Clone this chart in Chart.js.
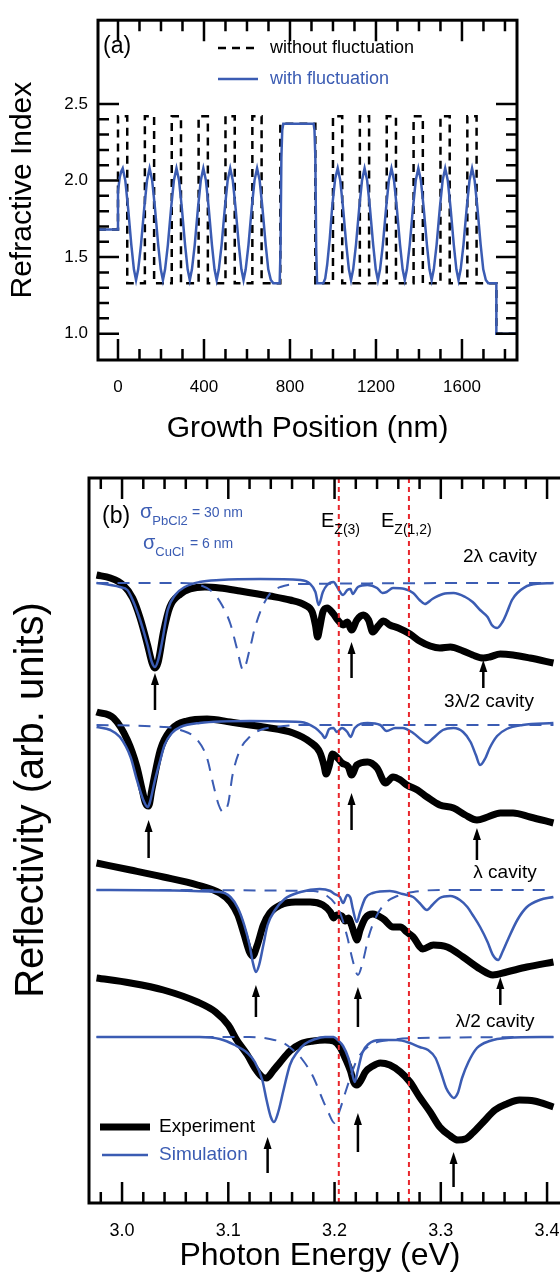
<!DOCTYPE html>
<html lang="en">
<head>
<meta charset="UTF-8">
<title>Refractive index profile and cavity reflectivity</title>
<style>
  html, body { margin: 0; padding: 0; background: #fff; overflow: hidden; }
  body { width: 560px; height: 1275px; position: relative; }
  canvas { position: absolute; left: 0; display: block; }
  #chartA { top: 0; }
  #chartB { top: 450px; }
</style>
<script src="https://cdn.jsdelivr.net/npm/chart.js"></script>
</head>
<body>
<canvas id="chartA" width="560" height="450"></canvas>
<canvas id="chartB" width="600" height="825"></canvas>
<script>
// ---------- panel (a): refractive index vs growth position ----------
const posTicks = [0, 400, 800, 1200, 1600];
const indexTicks = [1.0, 1.5, 2.0, 2.5];

// [position nm, index] step profile without fluctuation
const noFluct = [[-93,1.68],[0,1.68],[0,2.42],[43,2.42],[43,1.33],[125,1.33],[125,2.42],[168,2.42],[168,1.33],
  [250,1.33],[250,2.42],[293,2.42],[293,1.33],[375,1.33],[375,2.42],[418,2.42],[418,1.33],[500,1.33],[500,2.42],
  [543,2.42],[543,1.33],[625,1.33],[625,2.42],[668,2.42],[668,1.33],[755,1.33],[755,2.37],[918,2.37],[918,1.33],
  [1000,1.33],[1000,2.42],[1043,2.42],[1043,1.33],[1125,1.33],[1125,2.42],[1168,2.42],[1168,1.33],[1250,1.33],
  [1250,2.42],[1293,2.42],[1293,1.33],[1375,1.33],[1375,2.42],[1418,2.42],[1418,1.33],[1500,1.33],[1500,2.42],
  [1543,2.42],[1543,1.33],[1625,1.33],[1625,2.42],[1668,2.42],[1668,1.33],[1760,1.33],[1760,1.00],[1856,1.00]];

// [position nm, index] smoothed profile with fluctuation
const withFluct = [[-93,1.68],[0,1.68],[0,1.93],[8,2.02],[15,2.06],[22,2.08],[34,2.00],[47,1.82],[62,1.58],[74,1.42],
  [84,1.35],[94,1.42],[107,1.58],[122,1.82],[135,2.00],[147,2.08],[159,2.00],[172,1.82],[187,1.58],[199,1.42],
  [209,1.35],[219,1.42],[232,1.58],[247,1.82],[260,2.00],[272,2.08],[284,2.00],[297,1.82],[312,1.58],[324,1.42],
  [334,1.35],[344,1.42],[357,1.58],[372,1.82],[385,2.00],[397,2.08],[409,2.00],[422,1.82],[437,1.58],[449,1.42],
  [459,1.35],[469,1.42],[482,1.58],[497,1.82],[510,2.00],[522,2.08],[534,2.00],[547,1.82],[562,1.58],[574,1.42],
  [584,1.35],[594,1.42],[607,1.58],[622,1.82],[635,2.00],[647,2.08],[659,2.00],[672,1.82],[687,1.58],[699,1.42],
  [711,1.35],[722,1.33],[752,1.33],[756,1.55],[760,2.15],[764,2.33],[769,2.37],[910,2.37],[914,2.33],[918,2.15],
  [922,1.55],[926,1.33],[955,1.33],[964,1.36],[973,1.45],[985,1.62],[997,1.84],[1010,2.01],[1022,2.08],[1034,2.00],
  [1047,1.82],[1062,1.58],[1074,1.42],[1084,1.35],[1094,1.42],[1107,1.58],[1122,1.82],[1135,2.00],[1147,2.08],
  [1159,2.00],[1172,1.82],[1187,1.58],[1199,1.42],[1209,1.35],[1219,1.42],[1232,1.58],[1247,1.82],[1260,2.00],
  [1272,2.08],[1284,2.00],[1297,1.82],[1312,1.58],[1324,1.42],[1334,1.35],[1344,1.42],[1357,1.58],[1372,1.82],
  [1385,2.00],[1397,2.08],[1409,2.00],[1422,1.82],[1437,1.58],[1449,1.42],[1459,1.35],[1469,1.42],[1482,1.58],
  [1497,1.82],[1510,2.00],[1522,2.08],[1534,2.00],[1547,1.82],[1562,1.58],[1574,1.42],[1584,1.35],[1594,1.42],
  [1607,1.58],[1622,1.82],[1635,2.00],[1647,2.08],[1659,2.00],[1672,1.82],[1687,1.58],[1699,1.42],[1711,1.35],
  [1722,1.33],[1760,1.33],[1760,1.00],[1856,1.00]];

// ---------- panel (b): reflectivity spectra, [energy eV, reflectivity arb.] ----------
const energyTicks = [3.0, 3.1, 3.2, 3.3, 3.4];
const zLines = [3.204, 3.270]; // E_Z(3), E_Z(1,2)

const exp2L = [[2.976,6.28],[2.989,6.25],[3.001,6.18],[3.010,6.05],[3.017,5.85],[3.024,5.58],[3.028,5.41],[3.031,5.35],
  [3.034,5.41],[3.039,5.71],[3.045,5.96],[3.055,6.09],[3.064,6.14],[3.078,6.16],[3.092,6.15],[3.111,6.12],[3.139,6.07],
  [3.158,6.03],[3.172,5.98],[3.179,5.91],[3.182,5.78],[3.184,5.66],[3.186,5.75],[3.189,5.91],[3.193,5.95],[3.199,5.89],
  [3.203,5.83],[3.208,5.78],[3.212,5.81],[3.216,5.73],[3.221,5.83],[3.227,5.88],[3.232,5.83],[3.236,5.71],[3.241,5.77],
  [3.246,5.82],[3.252,5.78],[3.260,5.75],[3.271,5.69],[3.280,5.62],[3.290,5.57],[3.299,5.55],[3.309,5.56],[3.321,5.52],
  [3.330,5.48],[3.340,5.45],[3.346,5.46],[3.356,5.49],[3.368,5.48],[3.384,5.45],[3.406,5.40]];
const sim2L = [[2.976,6.20],[2.989,6.18],[2.998,6.16],[3.005,6.13],[3.010,6.03],[3.017,5.83],[3.024,5.58],[3.028,5.41],
  [3.031,5.36],[3.034,5.43],[3.038,5.63],[3.043,5.93],[3.050,6.08],[3.059,6.16],[3.073,6.21],[3.092,6.23],[3.130,6.24],
  [3.168,6.23],[3.177,6.19],[3.182,6.11],[3.185,5.98],[3.189,6.11],[3.193,6.18],[3.199,6.21],[3.203,6.15],[3.208,6.08],
  [3.212,6.13],[3.215,6.14],[3.217,6.09],[3.222,6.16],[3.231,6.18],[3.240,6.15],[3.245,6.10],[3.249,6.11],[3.255,6.15],
  [3.266,6.14],[3.274,6.10],[3.280,6.03],[3.285,5.99],[3.292,6.04],[3.302,6.09],[3.312,6.10],[3.323,6.06],[3.330,6.01],
  [3.337,5.93],[3.344,5.86],[3.348,5.78],[3.353,5.75],[3.358,5.81],[3.362,5.90],[3.367,6.03],[3.372,6.10],[3.384,6.18],
  [3.406,6.20]];
const ref2L = [[2.976,6.20],[3.055,6.20],[3.073,6.18],[3.085,6.11],[3.094,5.98],[3.102,5.79],[3.108,5.55],[3.114,5.33],
  [3.120,5.53],[3.125,5.75],[3.132,5.96],[3.139,6.09],[3.149,6.16],[3.168,6.19],[3.406,6.20]];

const exp3L2 = [[2.976,4.91],[2.992,4.85],[3.005,4.63],[3.014,4.36],[3.019,4.13],[3.022,4.00],[3.025,3.97],[3.028,4.13],
  [3.036,4.53],[3.045,4.72],[3.061,4.82],[3.080,4.84],[3.102,4.81],[3.133,4.76],[3.161,4.70],[3.177,4.61],[3.186,4.51],
  [3.190,4.38],[3.192,4.29],[3.195,4.37],[3.198,4.49],[3.202,4.46],[3.207,4.40],[3.213,4.36],[3.216,4.28],[3.221,4.38],
  [3.231,4.41],[3.240,4.35],[3.248,4.20],[3.255,4.26],[3.262,4.23],[3.268,4.18],[3.278,4.13],[3.287,4.06],[3.299,3.98],
  [3.312,3.95],[3.323,3.88],[3.334,3.83],[3.344,3.86],[3.356,3.90],[3.368,3.90],[3.384,3.86],[3.406,3.80]];
const sim3L2 = [[2.976,4.76],[2.989,4.73],[2.998,4.66],[3.008,4.46],[3.014,4.23],[3.020,4.03],[3.024,3.96],[3.026,4.00],
  [3.031,4.23],[3.036,4.43],[3.040,4.58],[3.047,4.70],[3.055,4.76],[3.073,4.80],[3.120,4.82],[3.168,4.81],[3.182,4.75],
  [3.188,4.69],[3.191,4.65],[3.195,4.74],[3.199,4.75],[3.202,4.71],[3.207,4.75],[3.212,4.71],[3.215,4.66],[3.219,4.75],
  [3.231,4.80],[3.243,4.78],[3.249,4.72],[3.257,4.75],[3.264,4.75],[3.274,4.70],[3.282,4.63],[3.287,4.60],[3.293,4.65],
  [3.302,4.73],[3.312,4.75],[3.321,4.71],[3.328,4.61],[3.333,4.48],[3.337,4.38],[3.342,4.45],[3.346,4.55],[3.353,4.67],
  [3.362,4.74],[3.377,4.78],[3.406,4.80]];
const ref3L2 = [[2.976,4.78],[3.039,4.76],[3.055,4.73],[3.071,4.63],[3.080,4.45],[3.086,4.18],[3.091,3.98],[3.095,3.91],
  [3.100,4.00],[3.104,4.28],[3.111,4.53],[3.120,4.66],[3.130,4.73],[3.144,4.76],[3.168,4.78],[3.406,4.78]];

const expL = [[2.976,3.40],[3.008,3.33],[3.039,3.26],[3.071,3.18],[3.092,3.10],[3.102,3.01],[3.109,2.88],[3.115,2.68],
  [3.120,2.51],[3.123,2.47],[3.127,2.57],[3.133,2.78],[3.139,2.90],[3.149,2.98],[3.163,3.01],[3.177,3.01],[3.189,2.98],
  [3.196,2.91],[3.199,2.85],[3.202,2.88],[3.207,2.87],[3.210,2.82],[3.213,2.85],[3.216,2.78],[3.219,2.68],[3.221,2.63],
  [3.224,2.73],[3.229,2.85],[3.236,2.89],[3.246,2.84],[3.255,2.76],[3.262,2.76],[3.268,2.71],[3.274,2.66],[3.283,2.54],
  [3.293,2.58],[3.306,2.56],[3.321,2.46],[3.337,2.34],[3.349,2.28],[3.362,2.31],[3.381,2.36],[3.406,2.41]];
const simL = [[2.976,3.13],[3.092,3.11],[3.102,3.06],[3.109,2.95],[3.115,2.78],[3.120,2.58],[3.123,2.41],[3.126,2.31],
  [3.129,2.38],[3.133,2.58],[3.137,2.78],[3.144,2.93],[3.153,3.04],[3.168,3.11],[3.186,3.14],[3.196,3.12],[3.200,3.09],
  [3.205,3.06],[3.208,3.00],[3.212,3.08],[3.215,3.05],[3.217,2.95],[3.221,2.81],[3.224,2.91],[3.229,3.05],[3.236,3.10],
  [3.252,3.12],[3.264,3.09],[3.274,3.06],[3.280,3.00],[3.287,2.93],[3.292,2.98],[3.299,3.05],[3.309,3.07],[3.318,3.03],
  [3.325,2.96],[3.330,2.88],[3.337,2.76],[3.344,2.61],[3.349,2.48],[3.354,2.43],[3.358,2.51],[3.363,2.63],[3.372,2.83],
  [3.381,2.96],[3.393,3.03],[3.406,3.06]];
const refL = [[2.976,3.13],[3.180,3.12],[3.193,3.07],[3.200,3.00],[3.206,2.88],[3.212,2.66],[3.217,2.43],[3.222,2.28],
  [3.227,2.43],[3.232,2.66],[3.239,2.86],[3.248,3.00],[3.259,3.07],[3.274,3.11],[3.299,3.13],[3.406,3.13]];

const expL2 = [[2.976,2.25],[3.008,2.20],[3.039,2.13],[3.071,2.01],[3.088,1.91],[3.100,1.78],[3.108,1.63],[3.118,1.48],
  [3.125,1.35],[3.132,1.26],[3.136,1.25],[3.142,1.32],[3.149,1.41],[3.158,1.52],[3.168,1.59],[3.180,1.62],[3.191,1.63],
  [3.199,1.62],[3.205,1.56],[3.210,1.45],[3.215,1.32],[3.218,1.21],[3.221,1.18],[3.225,1.23],[3.229,1.31],[3.236,1.37],
  [3.243,1.40],[3.252,1.38],[3.262,1.31],[3.271,1.21],[3.280,1.06],[3.290,0.91],[3.299,0.76],[3.309,0.67],[3.316,0.63],
  [3.323,0.64],[3.330,0.70],[3.340,0.81],[3.351,0.93],[3.362,0.99],[3.374,1.03],[3.388,1.02],[3.406,0.96]];
const simL2 = [[2.976,1.66],[3.073,1.66],[3.092,1.64],[3.106,1.58],[3.118,1.50],[3.125,1.41],[3.132,1.23],[3.136,1.03],
  [3.140,0.86],[3.143,0.81],[3.147,0.91],[3.152,1.13],[3.158,1.38],[3.165,1.51],[3.172,1.59],[3.182,1.64],[3.191,1.66],
  [3.199,1.66],[3.203,1.63],[3.208,1.57],[3.213,1.45],[3.216,1.33],[3.219,1.21],[3.222,1.33],[3.226,1.50],[3.232,1.59],
  [3.243,1.63],[3.259,1.63],[3.271,1.60],[3.280,1.56],[3.288,1.53],[3.295,1.45],[3.300,1.31],[3.305,1.15],[3.309,1.08],
  [3.312,1.05],[3.316,1.10],[3.320,1.25],[3.326,1.41],[3.334,1.55],[3.346,1.62],[3.362,1.65],[3.406,1.66]];
const refL2 = [[2.976,1.66],[3.120,1.66],[3.139,1.64],[3.152,1.60],[3.161,1.53],[3.170,1.43],[3.180,1.26],[3.187,1.08],
  [3.194,0.91],[3.200,0.80],[3.205,0.93],[3.210,1.10],[3.215,1.26],[3.221,1.43],[3.229,1.54],[3.238,1.60],[3.252,1.63],
  [3.280,1.65],[3.406,1.66]];

// mode arrows: energy, tip and tail reflectivity
const arrowE    = [3.031, 3.216, 3.340, 3.025, 3.216, 3.334, 3.126, 3.222, 3.356, 3.137, 3.222, 3.312];
const arrowTip  = [5.30, 5.61, 5.43, 3.83, 4.10, 3.75, 2.18, 2.16, 2.26, 0.66, 0.90, 0.51];
const arrowTail = [4.93, 5.25, 5.15, 3.45, 3.73, 3.43, 1.86, 1.76, 1.98, 0.30, 0.51, 0.16];

const FONT = '"Liberation Sans", Arial, Helvetica, sans-serif';
const BLUE = '#3b5cb3';
const RED = '#e8262c';

function pts(pairs) {
  return pairs.map(p => ({ x: p[0], y: p[1] }));
}

function text(ctx, str, x, y, size, color, align) {
  ctx.font = size + 'px ' + FONT;
  ctx.fillStyle = color || '#000';
  ctx.textAlign = align || 'left';
  ctx.textBaseline = 'middle';
  ctx.fillText(str, x, y);
  return ctx.measureText(str).width;
}

// frame with inward ticks on all sides of panel (a)
const frameA = {
  id: 'frameA',
  afterDraw(chart) {
    const { ctx, chartArea: a, scales: { x, y } } = chart;
    ctx.save();
    ctx.strokeStyle = '#000';
    ctx.lineWidth = 2.5;
    ctx.beginPath();
    for (let v = 0; v <= 1800; v += 100) {
      const px = x.getPixelForValue(v);
      const len = v % 400 === 0 ? 21 : 11;
      ctx.moveTo(px, a.bottom); ctx.lineTo(px, a.bottom - len);
      ctx.moveTo(px, a.top); ctx.lineTo(px, a.top + len);
    }
    for (let k = 10; k <= 25; k++) {
      const py = y.getPixelForValue(k / 10);
      const len = k % 5 === 0 ? 21 : 11;
      ctx.moveTo(a.left, py); ctx.lineTo(a.left + len, py);
      ctx.moveTo(a.right, py); ctx.lineTo(a.right - len, py);
    }
    ctx.stroke();
    ctx.lineWidth = 3;
    ctx.strokeRect(a.left, a.top, a.right - a.left, a.bottom - a.top);

    text(ctx, '(a)', 103, 47, 23);
    // legend
    ctx.lineWidth = 2.5;
    ctx.setLineDash([8, 6]);
    ctx.beginPath(); ctx.moveTo(218, 48); ctx.lineTo(258, 48); ctx.stroke();
    ctx.setLineDash([]);
    ctx.strokeStyle = BLUE;
    ctx.beginPath(); ctx.moveTo(218, 79); ctx.lineTo(258, 79); ctx.stroke();
    text(ctx, 'without fluctuation', 270, 48, 18, '#000');
    text(ctx, 'with fluctuation', 270, 79, 18, BLUE);
    ctx.restore();
  }
};

// frame, Z exciton lines, arrows and labels of panel (b)
const frameB = {
  id: 'frameB',
  afterDraw(chart) {
    const { ctx, chartArea: a, scales: { x, y } } = chart;
    ctx.save();
    ctx.strokeStyle = RED;
    ctx.lineWidth = 2;
    ctx.setLineDash([5, 4]);
    zLines.forEach(e => {
      const px = x.getPixelForValue(e);
      ctx.beginPath(); ctx.moveTo(px, a.top); ctx.lineTo(px, a.bottom); ctx.stroke();
    });
    ctx.setLineDash([]);

    // arrows pointing at the cavity modes
    ctx.strokeStyle = '#000';
    ctx.fillStyle = '#000';
    ctx.lineWidth = 2.5;
    arrowE.forEach((e, i) => {
      const px = x.getPixelForValue(e);
      const tip = y.getPixelForValue(arrowTip[i]);
      const tail = y.getPixelForValue(arrowTail[i]);
      ctx.beginPath(); ctx.moveTo(px, tail); ctx.lineTo(px, tip + 8); ctx.stroke();
      ctx.beginPath(); ctx.moveTo(px, tip); ctx.lineTo(px - 4, tip + 12); ctx.lineTo(px + 4, tip + 12); ctx.closePath(); ctx.fill();
    });

    // ticks and frame
    ctx.lineWidth = 2.5;
    ctx.beginPath();
    for (let k = 149; k <= 171; k++) {
      const px = x.getPixelForValue(k / 50);
      const len = k % 5 === 0 ? 21 : 11;
      ctx.moveTo(px, a.bottom); ctx.lineTo(px, a.bottom - len);
      ctx.moveTo(px, a.top); ctx.lineTo(px, a.top + len);
    }
    ctx.stroke();
    ctx.lineWidth = 3;
    ctx.beginPath();
    ctx.moveTo(a.right, a.top); ctx.lineTo(a.left, a.top); ctx.lineTo(a.left, a.bottom); ctx.lineTo(a.right, a.bottom);
    ctx.stroke();

    // axis titles
    text(ctx, 'Photon Energy (eV)', 320, 806, 32, '#000', 'center');
    ctx.save();
    ctx.translate(32, 350);
    ctx.rotate(-Math.PI / 2);
    text(ctx, 'Reflectivity (arb. units)', 0, 0, 40, '#000', 'center');
    ctx.restore();

    // labels
    text(ctx, '(b)', 102, 67, 23);
    let w = text(ctx, 'σ', 140, 62, 20, BLUE);
    w += text(ctx, 'PbCl2', 140 + w, 71, 13, BLUE);
    text(ctx, '= 30 nm', 192, 63, 14, BLUE);
    w = text(ctx, 'σ', 143, 93, 20, BLUE);
    text(ctx, 'CuCl', 143 + w, 102, 13, BLUE);
    text(ctx, '= 6 nm', 190, 94, 14, BLUE);

    w = text(ctx, 'E', 321, 71, 20);
    text(ctx, 'Z(3)', 321 + w, 80, 14);
    w = text(ctx, 'E', 381, 71, 20);
    text(ctx, 'Z(1,2)', 381 + w, 80, 14);

    text(ctx, '2λ cavity', 500, 107, 19, '#000', 'center');
    text(ctx, '3λ/2 cavity', 489, 252, 19, '#000', 'center');
    text(ctx, 'λ cavity', 505, 423, 19, '#000', 'center');
    text(ctx, 'λ/2 cavity', 495, 572, 19, '#000', 'center');

    // legend
    ctx.lineWidth = 7;
    ctx.beginPath(); ctx.moveTo(100, 677); ctx.lineTo(150, 677); ctx.stroke();
    ctx.strokeStyle = BLUE;
    ctx.lineWidth = 2.5;
    ctx.beginPath(); ctx.moveTo(102, 705); ctx.lineTo(148, 705); ctx.stroke();
    text(ctx, 'Experiment', 159, 677, 19, '#000');
    text(ctx, 'Simulation', 159, 705, 19, BLUE);
    ctx.restore();
  }
};

const common = {
  responsive: false,
  animation: false,
  devicePixelRatio: 1,
  plugins: { legend: { display: false }, tooltip: { enabled: false } },
  elements: { point: { radius: 0 } }
};

new Chart(document.getElementById('chartA'), {
  type: 'line',
  data: {
    datasets: [
      { label: 'with fluctuation', data: pts(withFluct), borderColor: BLUE, borderWidth: 2.5, tension: 0, order: 1 },
      { label: 'without fluctuation', data: pts(noFluct), borderColor: '#000', borderWidth: 2.5, borderDash: [8, 6], tension: 0, order: 2 }
    ]
  },
  options: Object.assign({}, common, {
    layout: { padding: { top: 11, right: 43, bottom: 0, left: 0 } },
    scales: {
      x: {
        type: 'linear', min: -93, max: 1856,
        grid: { display: false, drawTicks: false }, border: { display: false },
        afterBuildTicks: s => { s.ticks = posTicks.map(v => ({ value: v })); },
        ticks: { font: { family: FONT, size: 17 }, color: '#000', padding: 17, maxRotation: 0, autoSkip: false, callback: v => String(v) },
        title: { display: true, text: 'Growth Position (nm)', color: '#000', font: { family: FONT, size: 30 }, padding: { top: 0, bottom: 3 } },
        afterFit: s => { s.height = 90; }
      },
      y: {
        type: 'linear', min: 0.828, max: 3.047,
        grid: { display: false, drawTicks: false }, border: { display: false },
        afterBuildTicks: s => { s.ticks = indexTicks.map(v => ({ value: v })); },
        ticks: { font: { family: FONT, size: 17 }, color: '#000', padding: 10, callback: v => v.toFixed(1) },
        title: { display: true, text: 'Refractive Index', color: '#000', font: { family: FONT, size: 30 }, padding: { top: 5, bottom: 0 } },
        afterFit: s => { s.width = 98; }
      }
    }
  }),
  plugins: [frameA]
});

function curve(label, pairs, color, width, dash, order) {
  return { label: label, data: pts(pairs), borderColor: color, borderWidth: width, borderDash: dash || [],
           cubicInterpolationMode: 'monotone', order: order };
}

new Chart(document.getElementById('chartB'), {
  type: 'line',
  data: {
    datasets: [
      curve('2λ simulation', sim2L, BLUE, 2.5, null, 1),
      curve('3λ/2 simulation', sim3L2, BLUE, 2.5, null, 1),
      curve('λ simulation', simL, BLUE, 2.5, null, 1),
      curve('λ/2 simulation', simL2, BLUE, 2.5, null, 1),
      curve('2λ reference', ref2L, BLUE, 2, [12, 9], 2),
      curve('3λ/2 reference', ref3L2, BLUE, 2, [12, 9], 2),
      curve('λ reference', refL, BLUE, 2, [12, 9], 2),
      curve('λ/2 reference', refL2, BLUE, 2, [12, 9], 2),
      curve('2λ experiment', exp2L, '#000', 7, null, 3),
      curve('3λ/2 experiment', exp3L2, '#000', 7, null, 3),
      curve('λ experiment', expL, '#000', 7, null, 3),
      curve('λ/2 experiment', expL2, '#000', 7, null, 3)
    ]
  },
  options: Object.assign({}, common, {
    layout: { padding: { top: 28, right: 20, bottom: 0, left: 0 } },
    scales: {
      x: {
        type: 'linear', min: 2.9689, max: 3.431,
        grid: { display: false, drawTicks: false }, border: { display: false },
        afterBuildTicks: s => { s.ticks = energyTicks.map(v => ({ value: v })); },
        ticks: { font: { family: FONT, size: 18 }, color: '#000', padding: 17, maxRotation: 0, autoSkip: false, callback: v => v.toFixed(1) },
        title: { display: false },
        afterFit: s => { s.height = 72; }
      },
      y: {
        type: 'linear', min: 0, max: 7.25,
        grid: { display: false, drawTicks: false }, border: { display: false },
        ticks: { display: false },
        title: { display: false },
        afterFit: s => { s.width = 89; }
      }
    }
  }),
  plugins: [frameB]
});
</script>
</body>
</html>
